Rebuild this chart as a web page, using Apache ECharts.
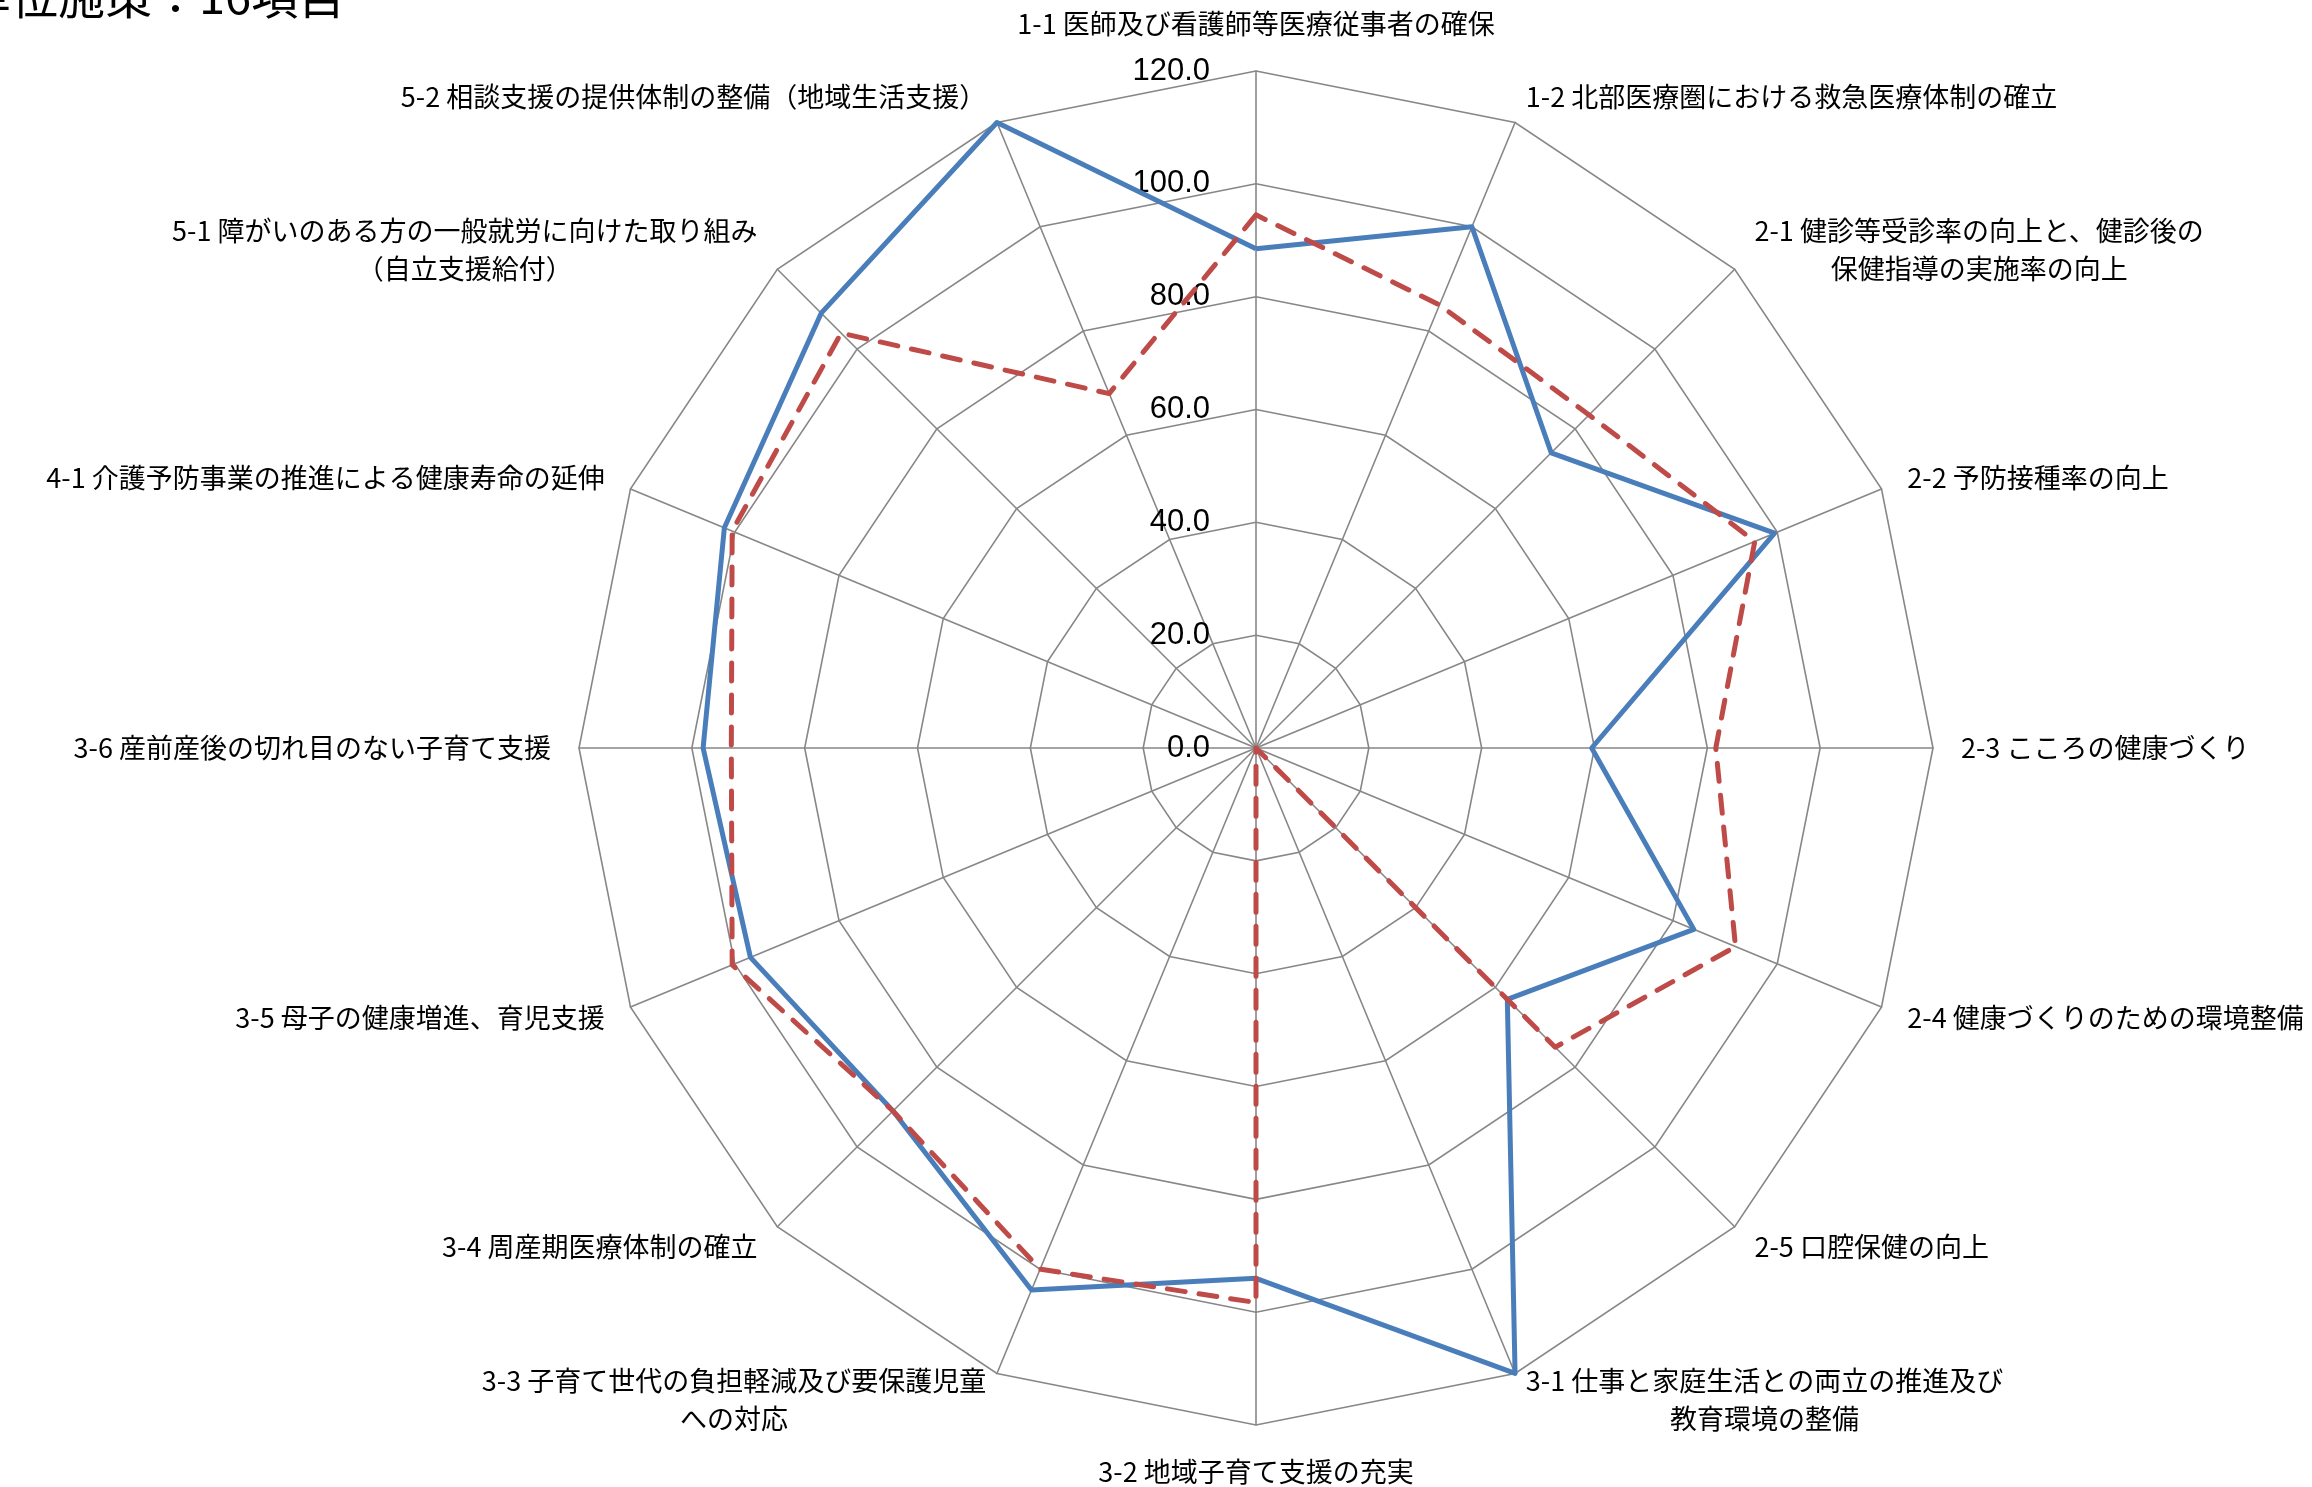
<!DOCTYPE html>
<html><head><meta charset="utf-8">
<script src="https://cdn.jsdelivr.net/npm/echarts@6/dist/echarts.min.js"></script>
<style>html,body{margin:0;padding:0;background:#fff}#c{width:2312px;height:1487px}</style>
</head><body><div id="c"></div>
<script>
// categories in clockwise order starting at the top
const categories = [
  '1-1 医師及び看護師等医療従事者の確保',
  '1-2 北部医療圏における救急医療体制の確立',
  '2-1 健診等受診率の向上と、健診後の\n保健指導の実施率の向上',
  '2-2 予防接種率の向上',
  '2-3 こころの健康づくり',
  '2-4 健康づくりのための環境整備',
  '2-5 口腔保健の向上',
  '3-1 仕事と家庭生活との両立の推進及び\n教育環境の整備',
  '3-2 地域子育て支援の充実',
  '3-3 子育て世代の負担軽減及び要保護児童\nへの対応',
  '3-4 周産期医療体制の確立',
  '3-5 母子の健康増進、育児支援',
  '3-6 産前産後の切れ目のない子育て支援',
  '4-1 介護予防事業の推進による健康寿命の延伸',
  '5-1 障がいのある方の一般就労に向けた取り組み\n（自立支援給付）',
  '5-2 相談支援の提供体制の整備（地域生活支援）'
];
const seriesBlue = [88.5, 100, 74, 99.5, 59.5, 84, 63, 120, 94, 104, 91, 97, 98, 102, 109, 120];
const seriesRed  = [94.5, 85, 83.5, 95.7, 81.5, 92, 75, 0, 98.3, 100, 91, 100.5, 93, 100.5, 104, 68];
const axisMin = 0, axisMax = 120, axisSplit = 6;
const titleText = '単位施策：16項目';

// ECharts radar runs counter-clockwise: reorder so the picture goes clockwise
const order = [0].concat(categories.map((_, i) => i).slice(1).reverse());
const reorder = arr => order.map(i => arr[i]);

const chart = echarts.init(document.getElementById('c'));
chart.setOption({
  animation: false,
  title: {
    text: titleText, left: -36, top: -27, padding: 0,
    textStyle: {fontSize: 47, fontWeight: 'normal', color: '#000', fontFamily: 'Noto Sans CJK JP'}
  },
  radar: {
    center: [1256, 748],
    radius: 677,
    startAngle: 90,
    shape: 'polygon',
    splitNumber: axisSplit,
    nameGap: 28,
    indicator: order.map((i, k) => ({name: categories[i], min: axisMin, max: axisMax, axisLabel: {show: k === 0}})),
    axisName: {
      color: '#000', fontSize: 27, fontFamily: 'Noto Sans CJK JP',
      formatter: n => n.split('\n').map(l => '{c|' + l + '}').join('\n'),
      rich: {c: {align: 'center', fontSize: 27, lineHeight: 38, color: '#000', fontFamily: 'Noto Sans CJK JP'}}
    },
    axisLine: {show: true, lineStyle: {color: '#878787', width: 1.6}},
    splitLine: {show: true, lineStyle: {color: '#878787', width: 1.6}},
    splitArea: {show: false},
    axisTick: {show: false},
    axisLabel: {
      show: true, margin: 46, color: '#000', fontSize: 31, fontFamily: 'Liberation Sans',
      formatter: v => Number(v).toFixed(1)
    }
  },
  series: [{
    type: 'radar',
    symbol: 'none',
    data: [
      {name: '系列1', value: reorder(seriesBlue), lineStyle: {color: '#4A7EBB', width: 5, type: 'solid'}, itemStyle: {color: '#4A7EBB'}},
      {name: '系列2', value: reorder(seriesRed), lineStyle: {color: '#BE4B48', width: 5, type: [18, 14], cap: 'round'}, itemStyle: {color: '#BE4B48'}}
    ]
  }]
});
</script></body></html>
